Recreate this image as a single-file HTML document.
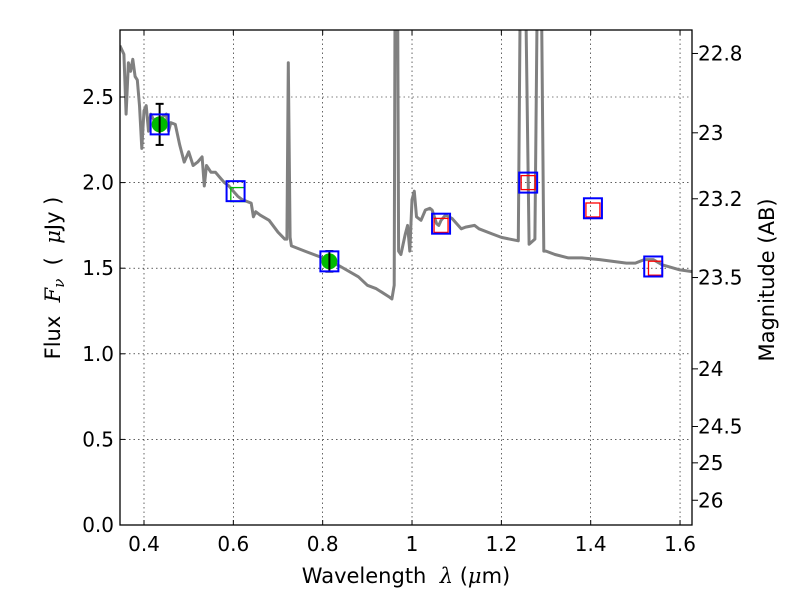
<!DOCTYPE html>
<html><head><meta charset="utf-8"><style>
html,body{margin:0;padding:0;background:#fff;}
svg{display:block;font-family:"DejaVu Sans","Liberation Sans",sans-serif;}
</style></head><body>
<svg id="chart" width="800" height="600">
<g id="grid"></g>
<g id="spec"></g>
<g id="marks"></g>
<g id="axes"></g>
</svg>
<script>
const xTicks=[0.4,0.6,0.8,1.0,1.2,1.4,1.6];
const xTickLabels=["0.4","0.6","0.8","1","1.2","1.4","1.6"];
const yTicks=[0,0.5,1.0,1.5,2.0,2.5];
const yTickLabels=["0.0","0.5","1.0","1.5","2.0","2.5"];
const magTicks=[22.8,23,23.2,23.5,24,24.5,25,26];
const magTickLabels=["22.8","23","23.2","23.5","24","24.5","25","26"];
const specLam=[0.346,0.355,0.36,0.365,0.37,0.375,0.38,0.385,0.39,0.395,0.40,0.405,0.41,0.415,0.425,0.44,0.45,0.455,0.46,0.47,0.48,0.49,0.50,0.51,0.52,0.53,0.535,0.54,0.55,0.56,0.57,0.58,0.59,0.60,0.61,0.62,0.64,0.645,0.65,0.66,0.68,0.70,0.715,0.72,0.723,0.727,0.73,0.76,0.80,0.84,0.88,0.90,0.92,0.95,0.955,0.96,0.962,0.968,0.97,0.975,0.985,0.99,0.995,1.0,1.005,1.01,1.02,1.03,1.04,1.045,1.055,1.06,1.065,1.075,1.09,1.11,1.12,1.14,1.15,1.18,1.2,1.238,1.242,1.255,1.262,1.275,1.28,1.29,1.295,1.30,1.32,1.35,1.38,1.42,1.45,1.48,1.50,1.52,1.54,1.56,1.60,1.627];
const specFlux=[2.80,2.75,2.40,2.70,2.65,2.72,2.62,2.60,2.45,2.20,2.42,2.45,2.30,2.40,2.35,2.38,2.40,2.30,2.35,2.34,2.22,2.12,2.18,2.10,2.12,2.15,1.98,2.10,2.06,2.06,2.03,2.00,1.98,1.95,1.92,1.90,1.88,1.80,1.83,1.81,1.78,1.71,1.67,1.67,2.70,1.68,1.63,1.60,1.56,1.51,1.45,1.40,1.38,1.33,1.32,1.40,3.0,3.0,1.60,1.58,1.70,1.75,1.60,1.90,1.95,1.80,1.78,1.84,1.85,1.84,1.76,1.75,1.78,1.81,1.79,1.73,1.74,1.75,1.73,1.70,1.68,1.66,3.0,3.0,1.64,1.67,3.0,3.0,1.60,1.60,1.58,1.56,1.56,1.55,1.54,1.53,1.53,1.55,1.55,1.52,1.49,1.48];
const obsLam=[0.435,0.815];
const obsFlux=[2.34,1.54];
const obsErr=[0.12,0.06];
const modelLam=[0.435,0.605,0.815,1.065,1.26,1.405,1.54];
const modelFlux=[2.34,1.95,1.54,1.76,2.00,1.85,1.51];
const ulLam=[0.61,1.065,1.26,1.405,1.545];
const ulFlux=[1.93,1.75,2.0,1.84,1.50];
const ulColor=["#00bb00","red","red","red","red"];

const L=120,R=692,T=30,B=525;
const X=v=>144+(v-0.4)*446.7;
const Y=v=>525-v*171.2;
const NS="http://www.w3.org/2000/svg";
function mk(tag,attrs,parent){const e=document.createElementNS(NS,tag);for(const k in attrs)e.setAttribute(k,attrs[k]);parent.appendChild(e);return e;}
const grid=document.getElementById('grid'),spec=document.getElementById('spec'),marks=document.getElementById('marks'),axes=document.getElementById('axes');
const cp=mk('clipPath',{id:'clip'},document.getElementById('chart'));mk('rect',{x:L,y:T,width:R-L,height:B-T},cp);
spec.setAttribute('clip-path','url(#clip)');
xTicks.forEach((t,i)=>{
 const g=mk('line',{x1:X(t),x2:X(t),y1:T,y2:B,stroke:'#000','stroke-width':0.6,'stroke-dasharray':'1.5,3'},grid);
 
 mk('line',{x1:X(t),x2:X(t),y1:B,y2:B-5,stroke:'#000'},axes);
 mk('line',{x1:X(t),x2:X(t),y1:T,y2:T+5,stroke:'#000'},axes);
 const tx=mk('text',{x:X(t),y:B+26,'text-anchor':'middle','font-size':20},axes);tx.textContent=xTickLabels[i];
 
});
yTicks.forEach((t,i)=>{
 const g=mk('line',{x1:L,x2:R,y1:Y(t),y2:Y(t),stroke:'#000','stroke-width':0.6,'stroke-dasharray':'1.5,3'},grid);
 
 mk('line',{x1:L,x2:L+5,y1:Y(t),y2:Y(t),stroke:'#000'},axes);
 const tx=mk('text',{x:L-6,y:Y(t)+7,'text-anchor':'end','font-size':20},axes);tx.textContent=yTickLabels[i];
 
});
magTicks.forEach((m,i)=>{
 const y=Y(Math.pow(10,(23.9-m)/2.5));
 mk('line',{x1:R,x2:R+6,y1:y,y2:y,stroke:'#000'},axes);
 const tx=mk('text',{x:R+6,y:y+7,'font-size':20},axes);tx.textContent=magTickLabels[i];
 
});
const pts=specLam.map((l,i)=>X(l).toFixed(1)+','+Y(specFlux[i]).toFixed(1)).join(' ');
const pl=mk('polyline',{points:pts,fill:'none',stroke:'#808080','stroke-width':3,'stroke-linejoin':'round'},spec);

ulLam.forEach((l,i)=>{
 const r=mk('rect',{x:X(l)-7,y:Y(ulFlux[i])-7,width:14,height:14,fill:'none',stroke:ulColor[i],'stroke-width':1.3},marks);
 
});
obsLam.forEach((l,i)=>{
 const c=mk('circle',{cx:X(l),cy:Y(obsFlux[i]),r:8,fill:'#00bb00'},marks);
 
 const y1=Y(obsFlux[i]+obsErr[i]),y2=Y(obsFlux[i]-obsErr[i]);
 const e=mk('line',{x1:X(l),x2:X(l),y1:y1,y2:y2,stroke:'#000','stroke-width':2},marks);
 
 mk('line',{x1:X(l)-4,x2:X(l)+4,y1:y1,y2:y1,stroke:'#000','stroke-width':2},marks);
 mk('line',{x1:X(l)-4,x2:X(l)+4,y1:y2,y2:y2,stroke:'#000','stroke-width':2},marks);
});
modelLam.forEach((l,i)=>{
 const r=mk('rect',{x:X(l)-9,y:Y(modelFlux[i])-10,width:18,height:20,fill:'none',stroke:'#0000ff','stroke-width':2},marks);
 
});
mk('rect',{x:L,y:T,width:R-L,height:B-T,fill:'none',stroke:'#000','stroke-width':1.3},axes);
</script>
<svg style="position:absolute;left:0;top:0" width="800" height="600">
<text x="406" y="583" text-anchor="middle" font-size="21" font-family="DejaVu Sans, sans-serif">Wavelength&#160;&#160;<tspan font-style="italic" font-family="DejaVu Serif, serif">λ</tspan>&#160;(<tspan font-style="italic" font-family="DejaVu Serif, serif">μ</tspan>m)</text>
<text transform="translate(60,278) rotate(-90)" text-anchor="middle" font-size="21" font-family="DejaVu Sans, sans-serif">Flux&#160;&#160;<tspan font-style="italic" font-family="DejaVu Serif, serif">F<tspan font-size="15" dy="4">ν</tspan></tspan><tspan dy="-4">&#160;&#160;(&#160;&#160;</tspan><tspan font-style="italic" font-family="DejaVu Serif, serif">μ</tspan>Jy&#160;)</text>
<text transform="translate(774,280) rotate(-90)" text-anchor="middle" font-size="21" font-family="DejaVu Sans, sans-serif">Magnitude (AB)</text>
</svg>
</body></html>
